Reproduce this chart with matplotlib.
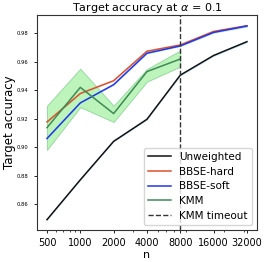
import numpy as np
import matplotlib
matplotlib.use("Agg")
import matplotlib.pyplot as plt
from matplotlib.ticker import NullFormatter

ns = [500, 1000, 2000, 4000, 8000, 16000, 32000]
tick_labels = ["500", "1000", "2000", "4000", "8000", "16000", "32000"]

unweighted = [0.849, 0.877, 0.904, 0.9195, 0.9505, 0.9643, 0.974]
unweighted_std = [0.0004, 0.0004, 0.0004, 0.0005, 0.0006, 0.0006, 0.0007]
bbse_hard = [0.9176, 0.9376, 0.9466, 0.9673, 0.9717, 0.9812, 0.9852]
bbse_hard_std = [0.0004, 0.0004, 0.0004, 0.0005, 0.0005, 0.0006, 0.0007]
bbse_soft = [0.906, 0.931, 0.9438, 0.9659, 0.971, 0.9805, 0.985]
bbse_soft_std = [0.0004, 0.0004, 0.0004, 0.0005, 0.0005, 0.0006, 0.0008]

kmm_ns = [500, 1000, 2000, 4000, 8000]
kmm = [0.9136, 0.9419, 0.9235, 0.953, 0.9618]
kmm_hi = [0.929, 0.955, 0.929, 0.9548, 0.9678]
kmm_lo = [0.898, 0.928, 0.9176, 0.9459, 0.9565]

fig, ax = plt.subplots(figsize=(2.66, 2.62), dpi=100)
fig.subplots_adjust(left=0.139, right=0.966, bottom=0.122, top=0.943)

def band(x, y, s, color):
    y = np.array(y)
    s = np.array(s)
    ax.fill_between(x, y - s, y + s, color=color, alpha=0.5, lw=0)

band(ns, unweighted, unweighted_std, "#7ec8f0")
band(ns, bbse_hard, bbse_hard_std, "#7ec8f0")
band(ns, bbse_soft, bbse_soft_std, "#7ec8f0")
ax.fill_between(kmm_ns, kmm_lo, kmm_hi, color="#90ee90", alpha=0.6,
                edgecolor="#5cbf6e", lw=0.6)

ax.plot(ns, unweighted, color="#111111", lw=1.1, label="Unweighted")
ax.plot(ns, bbse_hard, color="#e0502a", lw=1.1, label="BBSE-hard")
ax.plot(ns, bbse_soft, color="#2035e8", lw=1.1, label="BBSE-soft")
ax.plot(kmm_ns, kmm, color="#3f8a55", lw=1.1, label="KMM")
ax.axvline(8000, color="#333333", ls="--", lw=1.0, label="KMM timeout")

ax.set_xscale("log")
ax.set_xticks(ns)
ax.set_xticklabels(tick_labels, fontsize=7)
ax.xaxis.set_minor_formatter(NullFormatter())
ax.set_yticks([0.86, 0.88, 0.90, 0.92, 0.94, 0.96, 0.98])
ax.set_yticklabels(["0.86", "0.88", "0.90", "0.92", "0.94", "0.96", "0.98"], fontsize=3.8)
ax.tick_params(axis="both", length=2.5, width=0.6, which="major")
ax.tick_params(axis="y", pad=4)
ax.tick_params(axis="x", length=1.5, width=0.5, which="minor")
for sp in ax.spines.values():
    sp.set_linewidth(0.8)
    sp.set_color("#333333")

ax.set_xlabel("n", fontsize=8, labelpad=1)
ax.set_ylabel("Target accuracy", fontsize=8.5)
ax.yaxis.set_label_coords(-0.095, 0.5)
ax.set_title(r"Target accuracy at $\alpha$ = 0.1", fontsize=8, pad=3)
ax.legend(loc="lower right", fontsize=7.5, handlelength=2.2, borderpad=0.4,
          labelspacing=0.45, handletextpad=0.8)

fig.savefig("out.png", dpi=100)
